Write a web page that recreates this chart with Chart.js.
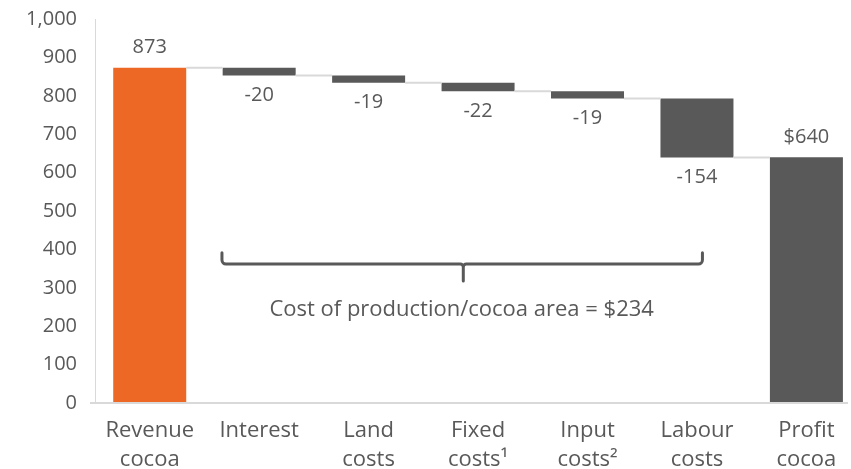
<!DOCTYPE html>
<html>
<head>
<meta charset="utf-8">
<script src="https://cdn.jsdelivr.net/npm/chart.js@4/dist/chart.umd.min.js"></script>
<style>
  html, body { margin: 0; padding: 0; background: #ffffff; overflow: hidden; }
  #wrap { width: 851px; height: 469px; position: relative; }
</style>
</head>
<body>
<div id="wrap"><canvas id="c"></canvas></div>
<script>
// ---- data ----
const categories = [
  ['Revenue', 'cocoa'],
  ['Interest'],
  ['Land', 'costs'],
  ['Fixed', 'costs\u00B9'],
  ['Input', 'costs\u00B2'],
  ['Labour', 'costs'],
  ['Profit', 'cocoa']
];
const revenue = 873;
const costDeltas = [-20, -19, -22, -19, -154];
const profit = 640;
const valueLabels = ['873', '-20', '-19', '-22', '-19', '-154', '$640'];
const braceText = 'Cost of production/cocoa area = $234';
const yMin = 0, yMax = 1000, yStep = 100;

// ---- build floating ranges from the values ----
const ranges = [[0, revenue]];
let running = revenue;
costDeltas.forEach(d => { ranges.push([running, running + d]); running += d; });
ranges.push([0, profit]);
const signedValues = [revenue, ...costDeltas, profit];

const ORANGE = '#EC6824';
const GREY = '#595959';
const LIGHT = '#D9D9D9';
const FONT = '"Open Sans", "Noto Sans", sans-serif';

Chart.defaults.font.family = FONT;
Chart.defaults.color = GREY;

// bracket annotation (in data units)
const brace = { from: 0.66, to: 5.05, mid: 2.865, level: 362, hook: 391, tip: 318, text: 242, textX: 2.85 };

const decor = {
  id: 'decor',
  afterDatasetsDraw(chart) {
    const ctx = chart.ctx;
    const meta = chart.getDatasetMeta(0);
    const xs = chart.scales.x, ys = chart.scales.y;
    ctx.save();
    // connectors
    ctx.strokeStyle = LIGHT;
    ctx.lineWidth = 2;
    for (let i = 0; i < meta.data.length - 1; i++) {
      const a = meta.data[i], b = meta.data[i + 1];
      const lvl = ys.getPixelForValue(ranges[i][1]);
      ctx.beginPath();
      ctx.moveTo(a.x + a.width / 2, lvl);
      ctx.lineTo(b.x - b.width / 2, lvl);
      ctx.stroke();
    }
    // value labels
    ctx.font = '20px ' + FONT;
    ctx.fillStyle = GREY;
    ctx.textAlign = 'center';
    ctx.textBaseline = 'middle';
    meta.data.forEach((bar, i) => {
      const top = Math.min(bar.y, bar.base), bottom = Math.max(bar.y, bar.base);
      const yy = signedValues[i] >= 0 ? top - 20 : bottom + 20;
      ctx.fillText(valueLabels[i], bar.x, yy);
    });
    // bracket
    const x0 = xs.getPixelForValue(brace.from), x1 = xs.getPixelForValue(brace.to);
    const xm = xs.getPixelForValue(brace.mid);
    const by = ys.getPixelForValue(brace.level), bt = ys.getPixelForValue(brace.hook), bp = ys.getPixelForValue(brace.tip);
    ctx.strokeStyle = GREY;
    ctx.lineWidth = 3;
    ctx.lineCap = 'round';
    ctx.lineJoin = 'round';
    ctx.beginPath();
    ctx.moveTo(x0, bt);
    ctx.arcTo(x0, by, x0 + 10, by, 4);
    ctx.lineTo(xm - 4, by);
    ctx.arcTo(xm, by, xm, by + 6, 3);
    ctx.lineTo(xm, bp);
    ctx.moveTo(xm, by + 3);
    ctx.arcTo(xm, by, xm + 4, by, 3);
    ctx.lineTo(x1 - 10, by);
    ctx.arcTo(x1, by, x1, bt, 4);
    ctx.lineTo(x1, bt);
    ctx.stroke();
    ctx.font = '22px ' + FONT;
    ctx.fillText(braceText, xs.getPixelForValue(brace.textX), ys.getPixelForValue(brace.text));
    ctx.restore();
  }
};

new Chart(document.getElementById('c'), {
  type: 'bar',
  data: {
    datasets: [{
      data: ranges.map((r, i) => ({ x: i, y: r })),
      backgroundColor: ranges.map((r, i) => i === 0 ? ORANGE : GREY),
      borderWidth: 0,
      barPercentage: 0.667,
      categoryPercentage: 1.0
    }]
  },
  options: {
    responsive: true,
    maintainAspectRatio: false,
    animation: false,
    layout: { padding: { top: 19, right: 3, bottom: 0, left: 0 } },
    plugins: { legend: { display: false }, tooltip: { enabled: false } },
    scales: {
      x: {
        type: 'linear',
        min: -0.5,
        max: 6.38,
        offset: false,
        grid: { display: false, drawTicks: false, offset: false },
        border: { display: false },
        afterBuildTicks: s => { s.ticks = categories.map((c, i) => ({ value: i })); },
        afterFit: s => { s.height = 66; s.paddingLeft = 0; s.paddingRight = 0; },
        ticks: {
          autoSkip: false,
          maxRotation: 0,
          padding: 13,
          color: GREY,
          font: { size: 22, lineHeight: 1.33 },
          callback: (v, i) => categories[i]
        }
      },
      y: {
        min: yMin,
        max: yMax,
        z: 1,
        afterFit: s => { s.width = 95; s.paddingTop = 0; s.paddingBottom = 0; },
        border: { display: true, color: LIGHT, width: 1 },
        grid: {
          drawOnChartArea: true,
          drawTicks: true,
          tickLength: 5,
          color: c => (c.tick && c.tick.value === 0) ? LIGHT : 'rgba(0,0,0,0)',
          lineWidth: c => (c.tick && c.tick.value === 0) ? 2 : 0
        },
        ticks: {
          stepSize: yStep,
          padding: 13,
          color: GREY,
          font: { size: 20 },
          callback: v => v.toLocaleString('en-US')
        }
      }
    }
  },
  plugins: [decor]
});
</script>
</body>
</html>
